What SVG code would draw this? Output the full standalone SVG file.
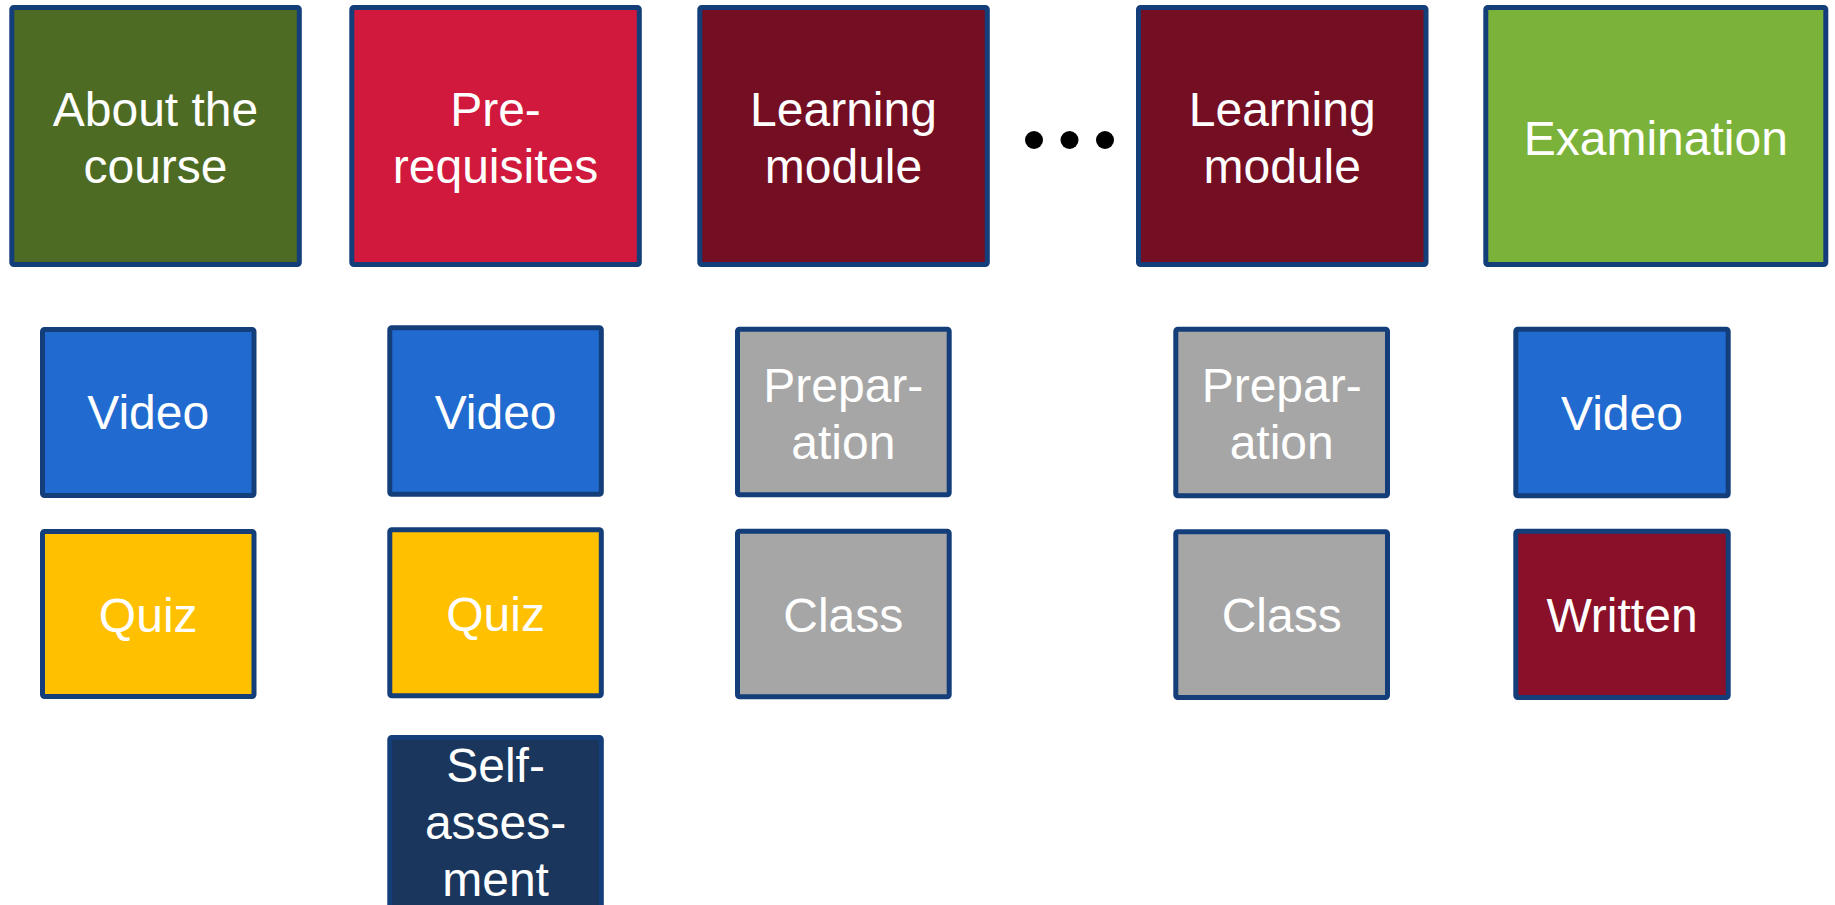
<svg xmlns="http://www.w3.org/2000/svg" width="1835" height="905" viewBox="0 0 1835 905">
  <style>
    .box { stroke: #133E7A; stroke-width: 5; }
    .lbl { font-family: "Liberation Sans", Arial, sans-serif; font-size: 48px; fill: #FFFFFF; text-anchor: middle; }
    .dot { fill: #000000; }
  </style>
  <rect width="1835" height="905" fill="#FFFFFF"/>

  <g id="about">
    <rect class="box" x="11.8" y="7.5" width="287.5" height="257" rx="2" fill="#4E6B23"/>
    <text class="lbl" x="155.5" y="126">About the</text>
    <text class="lbl" x="155.5" y="183">course</text>
  </g>
  <g id="prereq">
    <rect class="box" x="351.8" y="7.5" width="287.5" height="257" rx="2" fill="#D0193C"/>
    <text class="lbl" x="495.5" y="126">Pre-</text>
    <text class="lbl" x="495.5" y="183">requisites</text>
  </g>
  <g id="module1">
    <rect class="box" x="699.8" y="7.5" width="287.5" height="257" rx="2" fill="#740E23"/>
    <text class="lbl" x="843.5" y="126">Learning</text>
    <text class="lbl" x="843.5" y="183">module</text>
  </g>
  <g id="ellipsis">
    <circle class="dot" cx="1034" cy="140" r="9"/>
    <circle class="dot" cx="1069.5" cy="140" r="9"/>
    <circle class="dot" cx="1105" cy="140" r="9"/>
  </g>
  <g id="module2">
    <rect class="box" x="1138.5" y="7.5" width="287.5" height="257" rx="2" fill="#740E23"/>
    <text class="lbl" x="1282.2" y="126">Learning</text>
    <text class="lbl" x="1282.2" y="183">module</text>
  </g>
  <g id="exam">
    <rect class="box" x="1485.8" y="7.5" width="340" height="257" rx="2" fill="#7BB33A"/>
    <text class="lbl" x="1655.8" y="155">Examination</text>
  </g>

  <g id="about-video">
    <rect class="box" x="42.5" y="329.5" width="211.5" height="166" rx="2" fill="#216BD0"/>
    <text class="lbl" x="148.2" y="429">Video</text>
  </g>
  <g id="about-quiz">
    <rect class="box" x="42.5" y="531.5" width="211.5" height="165" rx="2" fill="#FFC000"/>
    <text class="lbl" x="148.2" y="632">Quiz</text>
  </g>

  <g id="prereq-video">
    <rect class="box" x="389.8" y="327.8" width="211.5" height="166.4" rx="2" fill="#216BD0"/>
    <text class="lbl" x="495.6" y="429">Video</text>
  </g>
  <g id="prereq-quiz">
    <rect class="box" x="389.8" y="529.8" width="211.5" height="166" rx="2" fill="#FFC000"/>
    <text class="lbl" x="495.6" y="631">Quiz</text>
  </g>
  <g id="prereq-self">
    <rect class="box" x="389.8" y="737.5" width="211.5" height="200" rx="2" fill="#1A365D"/>
    <text class="lbl" x="495.6" y="781.5">Self-</text>
    <text class="lbl" x="495.6" y="839">asses-</text>
    <text class="lbl" x="495.6" y="896">ment</text>
  </g>

  <g id="module1-prep">
    <rect class="box" x="737.5" y="329.2" width="211.7" height="165.6" rx="2" fill="#A6A6A6"/>
    <text class="lbl" x="843.3" y="401.7">Prepar-</text>
    <text class="lbl" x="843.3" y="459.3">ation</text>
  </g>
  <g id="module1-class">
    <rect class="box" x="737.5" y="531.2" width="211.7" height="165.6" rx="2" fill="#A6A6A6"/>
    <text class="lbl" x="843.3" y="631.7">Class</text>
  </g>

  <g id="module2-prep">
    <rect class="box" x="1175.8" y="329.2" width="211.7" height="166.6" rx="2" fill="#A6A6A6"/>
    <text class="lbl" x="1281.7" y="401.7">Prepar-</text>
    <text class="lbl" x="1281.7" y="459.3">ation</text>
  </g>
  <g id="module2-class">
    <rect class="box" x="1175.8" y="531.8" width="211.7" height="165.7" rx="2" fill="#A6A6A6"/>
    <text class="lbl" x="1281.7" y="632">Class</text>
  </g>

  <g id="exam-video">
    <rect class="box" x="1515.8" y="329.2" width="212.4" height="166.6" rx="2" fill="#216BD0"/>
    <text class="lbl" x="1622" y="429.5">Video</text>
  </g>
  <g id="exam-written">
    <rect class="box" x="1515.8" y="531.2" width="212.4" height="166.3" rx="2" fill="#8A0F28"/>
    <text class="lbl" x="1622" y="632">Written</text>
  </g>

  <g id="connectors"></g>
</svg>
